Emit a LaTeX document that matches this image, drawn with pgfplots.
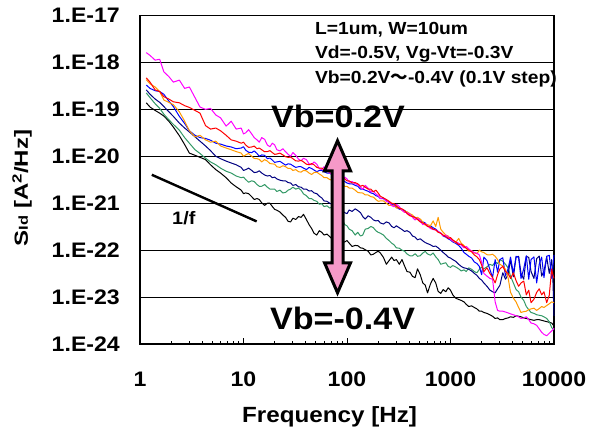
\documentclass[border=0pt]{standalone}
\usepackage{fontspec}
\setmainfont{Liberation Sans}[FakeStretch=1.1]
\newfontfamily\cjk{Noto Sans CJK JP}
\usepackage{pgfplots}
\usepackage{pgfplotstable}
\pgfplotsset{compat=1.18}
\definecolor{cmag}{RGB}{255,0,255}
\definecolor{cred}{RGB}{255,0,0}
\definecolor{corange}{RGB}{255,153,0}
\definecolor{cblue}{RGB}{0,0,255}
\definecolor{cnavy}{RGB}{0,0,128}
\definecolor{cgreen}{RGB}{51,153,102}
\definecolor{apink}{RGB}{245,153,200}
\pgfplotstableread{
f m r o b n g k
1.15 1.62e-18 4.7e-19 4.3e-19 3.3e-19 2.6e-19 2.24e-19 1.38e-19
1.25 1.41e-18 3.8e-19 3.5e-19 2.8e-19 2.1e-19 1.78e-19 1.12e-19
1.4 1.12e-18 2.6e-19 3.0e-19 2.5e-19 1.66e-19 1.32e-19 9.5e-20
1.55 1.17e-18 2.4e-19 2.4e-19 2.4e-19 1.41e-19 1.05e-19 8.3e-20
1.7 6.3e-19 1.86e-19 1.58e-19 2.1e-19 1.15e-19 7.9e-20 7.2e-20
1.9 5.0e-19 1.66e-19 1.41e-19 1.5e-19 8.9e-20 6.0e-20 5.6e-20
2.1 3.8e-19 1.45e-19 1.26e-19 1.15e-19 7.1e-20 4.8e-20 4.2e-20
2.4 4.2e-19 1.38e-19 8.9e-20 7.1e-20 5.1e-20 3.6e-20 2.75e-20
2.7 2.8e-19 1.2e-19 5.6e-20 5.0e-20 4.0e-20 2.5e-20 1.78e-20
3.0 3.0e-19 1.10e-19 3.5e-20 3.5e-20 3.3e-20 1.9e-20 1.17e-20
3.4 1.78e-19 9.5e-20 2.6e-20 2.8e-20 2.6e-20 1.38e-20 1.05e-20
3.8 1.12e-19 8.3e-20 2.8e-20 2.5e-20 2.1e-20 1.15e-20 9.5e-21
4.3 1.0e-19 4.5e-20 2.24e-20 2.4e-20 1.66e-20 9.1e-21 8.5e-21
4.8 1.05e-19 3.8e-20 2.0e-20 2.2e-20 1.32e-20 7.6e-21 6.6e-21
5.4 7.6e-20 4.0e-20 2.1e-20 1.9e-20 1.0e-20 6.6e-21 5.2e-21
6.0 6.6e-20 3.5e-20 1.66e-20 1.82e-20 8.9e-21 5.6e-21 4.4e-21
6.8 4.4e-20 2.8e-20 1.5e-20 1.66e-20 7.9e-21 4.8e-21 3.5e-21
7.6 5.6e-20 2.24e-20 1.38e-20 1.58e-20 7.2e-21 4.4e-21 2.7e-21
8.5 3.8e-20 2.1e-20 1.26e-20 1.45e-20 6.6e-21 3.8e-21 2.24e-21
9.5 4.0e-20 1.9e-20 1.17e-20 1.5e-20 5.8e-21 3.5e-21 1.9e-21
10 3.0e-20 2.0e-20 1.0e-20 1.6e-20 5.0e-21 3.6e-21 1.6e-21
10.5 3.16e-20 1.74e-20 1.07e-20 1.35e-20 5.2e-21 3.2e-21 1.66e-21
11.2 3.7e-20 1.55e-20 1.15e-20 1.22e-20 5.6e-21 2.8e-21 1.6e-21
12 3.0e-20 1.58e-20 1.0e-20 1.2e-20 5.0e-21 3.0e-21 1.38e-21
12.7 2.5e-20 1.65e-20 9.0e-21 1.3e-20 4.5e-21 2.9e-21 1.2e-21
13.5 2.24e-20 1.45e-20 8.9e-21 1.15e-20 4.6e-21 2.5e-21 1.26e-21
14.2 2.0e-20 1.5e-20 8.6e-21 1.0e-20 4.9e-21 2.3e-21 1.2e-21
15 2.5e-20 1.38e-20 7.6e-21 1.07e-20 4.4e-21 2.3e-21 1.02e-21
16 2.3e-20 1.25e-20 8.5e-21 1.05e-20 4.0e-21 2.5e-21 9.0e-22
17 1.74e-20 1.26e-20 7.9e-21 8.9e-21 3.8e-21 2.2e-21 1.0e-21
18 1.6e-20 1.32e-20 7.0e-21 9.2e-21 3.9e-21 2.0e-21 1.0e-21
19 1.9e-20 1.20e-20 6.9e-21 8.3e-21 3.5e-21 2.0e-21 8.5e-22
20 1.75e-20 1.1e-20 6.8e-21 7.4e-21 3.6e-21 2.0e-21 7.4e-22
21 1.38e-20 1.12e-20 6.0e-21 7.6e-21 3.3e-21 1.78e-21 7.1e-22
22.5 1.3e-20 1.17e-20 5.8e-21 7.8e-21 3.1e-21 1.9e-21 6.5e-22
24 1.45e-20 1.07e-20 6.3e-21 7.1e-21 3.0e-21 1.66e-21 5.6e-22
25.5 1.25e-20 9.8e-21 6.0e-21 6.5e-21 3.0e-21 1.7e-21 5.0e-22
27 1.10e-20 9.5e-21 5.5e-21 6.9e-21 2.75e-21 1.9e-21 4.1e-22
28.5 1.0e-20 9.6e-21 5.5e-21 6.8e-21 2.7e-21 2.0e-21 4.0e-22
30 1.20e-20 8.9e-21 5.0e-21 6.3e-21 2.4e-21 2.2e-21 4.8e-22
32 1.05e-20 8.0e-21 5.2e-21 5.8e-21 2.5e-21 2.0e-21 4.5e-22
34 8.7e-21 7.9e-21 4.7e-21 6.0e-21 2.24e-21 2.1e-21 5.2e-22
36 8.0e-21 8.2e-21 4.6e-21 6.0e-21 2.2e-21 1.9e-21 5.0e-22
38 9.1e-21 7.6e-21 5.0e-21 5.6e-21 2.0e-21 1.58e-21 5.8e-22
40.5 8.5e-21 6.8e-21 4.9e-21 5.2e-21 2.0e-21 1.45e-21 4.5e-22
43 6.9e-21 6.6e-21 4.4e-21 5.8e-21 1.82e-21 1.26e-21 3.5e-22
45.5 6.6e-21 7.0e-21 4.1e-21 5.5e-21 1.85e-21 1.25e-21 2.9e-22
48 7.6e-21 6.6e-21 4.5e-21 5.1e-21 1.66e-21 1.15e-21 2.3e-22
51 6.8e-21 5.8e-21 4.6e-21 4.7e-21 1.6e-21 1.1e-21 2.1e-22
54 5.5e-21 5.6e-21 4.2e-21 5.0e-21 1.41e-21 9.5e-22 2.6e-22
57 5.2e-21 5.6e-21 3.9e-21 5.0e-21 1.3e-21 9.8e-22 2.4e-22
60 6.0e-21 5.2e-21 3.5e-21 4.7e-21 1.12e-21 8.5e-22 2.1e-22
64 5.4e-21 4.8e-21 3.5e-21 4.4e-21 1.1e-21 8.8e-22 2.2e-22
68 4.4e-21 4.7e-21 3.2e-21 4.4e-21 1.0e-21 7.9e-22 1.95e-22
72 4.2e-21 4.6e-21 3.1e-21 4.0e-21 9.5e-22 8.3e-22 1.7e-22
76 4.8e-21 4.2e-21 2.8e-21 3.5e-21 8.3e-22 7.6e-22 1.78e-22
80 4.3e-21 3.9e-21 2.9e-21 3.5e-21 8.0e-22 6.8e-22 1.85e-22
85 3.5e-21 3.8e-21 2.6e-21 3.2e-21 7.2e-22 5.6e-22 1.66e-22
90 3.2e-21 3.6e-21 2.5e-21 3.1e-21 7.0e-22 4.6e-22 1.45e-22
95 3.6e-21 3.3e-21 2.3e-21 2.9e-21 6.3e-22 3.5e-22 1.5e-22
100 3.3e-21 3.0e-21 2.3e-21 2.7e-21 6.0e-22 3.3e-22 1.6e-22
105 2.8e-21 3.0e-21 2.1e-21 2.6e-21 7.2e-22 2.8e-22 1.41e-22
112 2.9e-21 2.7e-21 2.1e-21 2.6e-21 6.7e-22 2.6e-22 1.2e-22
120 2.6e-21 2.75e-21 1.9e-21 2.4e-21 7.6e-22 2.1e-22 1.26e-22
127 2.5e-21 2.6e-21 1.7e-21 2.3e-21 7.0e-22 2.4e-22 1.25e-22
135 2.2e-21 2.3e-21 1.66e-21 2.0e-21 6.3e-22 2.0e-22 1.12e-22
142 2.0e-21 2.4e-21 1.65e-21 2.0e-21 5.2e-22 2.1e-22 1.1e-22
150 2.4e-21 2.2e-21 1.5e-21 1.9e-21 4.6e-22 2.8e-22 1.02e-22
160 2.1e-21 2.0e-21 1.5e-21 1.8e-21 5.4e-22 2.9e-22 9.5e-23
170 1.74e-21 2.0e-21 1.38e-21 1.66e-21 5.0e-22 3.2e-22 7.9e-23
180 1.8e-21 1.75e-21 1.35e-21 1.6e-21 4.4e-22 3.0e-22 8.2e-23
190 1.58e-21 1.9e-21 1.2e-21 1.45e-21 4.2e-22 2.6e-22 8.9e-23
200 1.45e-21 1.65e-21 1.1e-21 1.4e-21 4.3e-22 2.4e-22 9.5e-23
210 1.26e-21 1.41e-21 1.12e-21 1.26e-21 3.8e-22 2.3e-22 8.7e-23
225 1.3e-21 1.3e-21 1.12e-21 1.25e-21 3.6e-22 2.1e-22 7.0e-23
240 1.10e-21 1.2e-21 1.0e-21 1.12e-21 4.0e-22 1.78e-22 5.0e-23
255 1.05e-21 1.1e-21 9.0e-22 1.05e-21 3.8e-22 1.6e-22 6.0e-23
270 8.9e-22 1.0e-21 9.1e-22 9.5e-22 3.2e-22 1.41e-22 7.1e-23
285 8.4e-22 9.8e-22 8.8e-22 9.2e-22 3.0e-22 1.3e-22 6.0e-23
300 9.5e-22 8.7e-22 7.9e-22 8.3e-22 3.3e-22 1.12e-22 6.3e-23
320 8.5e-22 7.8e-22 8.0e-22 7.5e-22 3.0e-22 1.1e-22 5.0e-23
340 7.1e-22 7.6e-22 7.1e-22 7.2e-22 2.75e-22 1.0e-22 6.3e-23
360 6.4e-22 7.0e-22 6.4e-22 7.0e-22 2.5e-22 9.5e-23 4.6e-23
380 6.3e-22 6.0e-22 6.6e-22 6.3e-22 2.6e-22 8.3e-23 3.5e-23
405 5.8e-22 5.4e-22 6.0e-22 5.6e-22 2.4e-22 7.6e-23 3.4e-23
430 5.0e-22 5.2e-22 5.6e-22 5.2e-22 2.0e-22 7.6e-23 2.75e-23
455 4.4e-22 5.0e-22 4.8e-22 5.0e-22 1.9e-22 8.4e-23 2.6e-23
480 4.8e-22 4.5e-22 5.0e-22 4.7e-22 1.66e-22 7.4e-23 4.0e-23
510 4.2e-22 4.0e-22 4.6e-22 4.2e-22 1.75e-22 7.6e-23 3.0e-23
540 3.5e-22 3.8e-22 4.0e-22 4.0e-22 1.58e-22 8.7e-23 2.0e-23
570 3.7e-22 3.6e-22 3.4e-22 3.8e-22 1.45e-22 9.4e-23 1.8e-23
600 3.3e-22 3.2e-22 3.5e-22 3.2e-22 1.38e-22 8.3e-23 1.23e-23
640 2.9e-22 3.1e-22 3.3e-22 3.3e-22 1.3e-22 7.8e-23 1.9e-23
680 2.75e-22 2.8e-22 4.2e-22 3.0e-22 1.2e-22 8.7e-23 2.5e-23
720 2.7e-22 2.7e-22 3.2e-22 2.8e-22 1.22e-22 7.2e-23 2.0e-23
760 2.5e-22 2.4e-22 5.0e-22 2.5e-22 1.12e-22 6.3e-23 1.32e-23
805 2.3e-22 2.3e-22 2.8e-22 2.3e-22 1.0e-22 5.0e-23 1.2e-23
850 2.0e-22 2.1e-22 2.4e-22 2.0e-22 8.9e-23 5.2e-23 1.45e-23
900 2.1e-22 1.95e-22 2.1e-22 1.9e-22 8.0e-23 5.4e-23 1.3e-23
950 1.9e-22 1.78e-22 2.0e-22 1.74e-22 7.1e-23 4.5e-23 1.58e-23
1000 1.7e-22 1.85e-22 1.75e-22 1.65e-22 6.8e-23 4.3e-23 1.4e-23
1050 1.58e-22 1.66e-22 1.58e-22 1.5e-22 6.3e-23 4.7e-23 1.12e-23
1120 1.5e-22 1.5e-22 1.45e-22 1.4e-22 5.8e-23 4.4e-23 9.5e-24
1200 1.41e-22 1.32e-22 1.78e-22 1.26e-22 5.0e-23 4.0e-23 8.9e-24
1270 1.28e-22 1.35e-22 1.4e-22 1.1e-22 4.5e-23 3.6e-23 8.5e-24
1350 1.12e-22 1.2e-22 1.26e-22 8.9e-23 4.2e-23 3.8e-23 7.9e-24
1420 1.2e-22 1.1e-22 1.1e-22 8.2e-23 4.1e-23 3.5e-23 7.0e-24
1500 1.07e-22 1.0e-22 9.5e-23 7.4e-23 3.9e-23 4.2e-23 6.3e-24
1600 9.5e-23 9.2e-23 9.8e-23 6.8e-23 3.6e-23 3.9e-23 6.5e-24
1700 8.9e-23 7.9e-23 8.7e-23 5.6e-23 3.2e-23 3.5e-23 6.0e-24
1800 8.6e-23 7.2e-23 8.4e-23 5.2e-23 2.9e-23 3.3e-23 5.6e-24
1900 7.9e-23 6.3e-23 1.0e-22 4.5e-23 2.5e-23 3.9e-23 5.0e-24
2000 5.5e-23 4.8e-23 9.2e-23 3.0e-23 2.3e-23 4.4e-23 5.0e-24
2100 3.2e-23 3.5e-23 8.9e-23 7.1e-23 2.0e-23 4.0e-23 4.7e-24
2250 2.8e-23 4.2e-23 8.0e-23 6.0e-23 1.7e-23 4.4e-23 4.5e-24
2400 2.5e-23 3.2e-23 7.9e-23 3.9e-23 1.41e-23 5.0e-23 4.2e-24
2550 2.4e-23 2.6e-23 8.2e-23 2.6e-23 1.3e-23 4.7e-23 3.9e-24
2700 7.9e-24 2.0e-23 7.4e-23 6.3e-23 1.23e-23 5.6e-23 3.5e-24
2850 5.2e-24 3.0e-23 6.3e-23 3.4e-23 1.5e-23 5.2e-23 3.6e-24
3000 5.0e-24 4.0e-23 5.0e-23 6.3e-23 1.78e-23 6.3e-23 3.3e-24
3200 5.0e-24 4.5e-23 4.6e-23 6.9e-23 3.3e-23 5.8e-23 3.3e-24
3400 4.8e-24 3.5e-23 3.9e-23 2.8e-23 2.4e-23 5.0e-23 3.5e-24
3600 4.6e-24 3.2e-23 2.6e-23 4.0e-23 3.0e-23 4.2e-23 3.6e-24
3800 4.4e-24 2.5e-23 1.26e-23 7.1e-23 6.3e-23 2.8e-23 3.8e-24
4050 4.2e-24 3.3e-23 9.5e-24 3.2e-23 2.7e-23 2.0e-23 3.7e-24
4300 4.0e-24 2.24e-23 7.9e-24 7.4e-23 7.1e-23 1.45e-23 4.0e-24
4550 3.8e-24 1.7e-23 6.0e-24 7.0e-23 7.4e-23 1.3e-23 3.9e-24
4800 3.5e-24 2.0e-23 4.7e-24 2.5e-23 3.2e-23 1.0e-23 3.8e-24
5100 3.6e-24 2.2e-23 4.9e-24 4.0e-23 2.4e-23 8.5e-24 3.6e-24
5400 3.8e-24 1.12e-23 5.0e-24 7.6e-23 7.4e-23 6.3e-24 3.5e-24
5700 3.3e-24 1.4e-23 5.4e-24 2.4e-23 7.0e-23 5.4e-24 3.4e-24
6000 2.8e-24 7.6e-24 5.6e-24 6.3e-23 3.5e-23 4.7e-24 3.3e-24
6400 2.7e-24 9.0e-24 5.8e-24 7.2e-23 2.5e-23 4.5e-24 3.2e-24
6800 2.5e-24 1.26e-23 5.2e-24 2.0e-23 6.6e-23 4.2e-24 3.3e-24
7200 2.1e-24 1.5e-23 5.7e-24 5.0e-23 7.5e-23 4.1e-24 3.3e-24
7600 1.78e-24 1.12e-23 6.3e-24 7.1e-23 2.8e-23 4.0e-24 3.2e-24
8000 1.6e-24 1.3e-23 6.0e-24 2.6e-23 3.6e-23 3.8e-24 3.1e-24
8500 1.5e-24 7.6e-24 6.6e-24 7.4e-23 7.1e-23 3.5e-24 3.0e-24
9000 1.7e-24 1.1e-23 7.2e-24 7.8e-23 3.2e-23 3.0e-24 2.9e-24
9500 1.9e-24 4.0e-23 7.9e-24 2.5e-23 6.3e-23 2.24e-24 2.8e-24
9750 2.0e-24 3.0e-23 7.8e-24 4.5e-23 2.5e-23 2.1e-24 2.6e-24
10000 2.2e-24 2.5e-23 7.6e-24 7.9e-23 4.0e-24 2.0e-24 2.4e-24
}\sid
\begin{document}
\begin{tikzpicture}
\useasboundingbox (-140pt,-90pt) rectangle (451pt,344pt);
\begin{axis}[
  at={(0,0)}, anchor=south west,
  scale only axis, width=414pt, height=328.5pt,
  xmode=log, ymode=log,
  xmin=1, xmax=10000, ymin=1e-24, ymax=1e-17,
  xtick={1,10,100,1000,10000},
  xticklabels={1,10,100,1000,10000},
  ytick={1e-24,1e-23,1e-22,1e-21,1e-20,1e-19,1e-18,1e-17},
  yticklabels={1.E-24,1.E-23,1.E-22,1.E-21,1.E-20,1.E-19,1.E-18,1.E-17},
  minor xtick={}, minor ytick={},
  ymajorgrids, major grid style={black, line width=0.8pt},
  axis line style={black, line width=1.1pt},
  tick align=inside, xtick pos=bottom, ytick pos=left,
  major tick length=6pt,
  xtick style={black, line width=0.8pt},
  ytick style={draw=none},
  tick label style={font=\fontsize{21}{24}\selectfont\bfseries, inner sep=0pt},
  yticklabel style={anchor=east, xshift=-20pt},
  xticklabel style={anchor=north, yshift=-28pt},
  xlabel={Frequency [Hz]},
  xlabel style={at={(axis description cs:0.458,0)}, anchor=north, yshift=-62pt, inner sep=0pt, font=\fontsize{22}{26}\selectfont\bfseries},
  ylabel={\scalebox{1.15}[1]{S{\fontsize{13}{15}\selectfont Id} [A\textsuperscript{2}/Hz]}},
  ylabel style={at={(axis description cs:-0.285,0.475)}, anchor=center, inner sep=0pt, font=\fontsize{19}{22}\selectfont\bfseries},
  clip=false,
  every axis plot/.append style={line width=1pt, line join=round, no markers},
]
\addplot[black] table[x=f, y=k] {\sid};
\addplot[cgreen] table[x=f, y=g] {\sid};
\addplot[cnavy] table[x=f, y=n] {\sid};
\addplot[cblue] table[x=f, y=b] {\sid};
\addplot[corange] table[x=f, y=o] {\sid};
\addplot[cmag] table[x=f, y=m] {\sid};
\addplot[cred] table[x=f, y=r] {\sid};
\addplot[black, line width=2.4pt] coordinates {(1.3,4.04e-21) (13.4,4.1e-22)};
\node[anchor=base west, inner sep=0pt, font=\fontsize{18}{20}\selectfont\bfseries] at (axis cs:2.04,3.49e-22) {1/f};
\node[anchor=base west, inner sep=0pt, font=\fontsize{17.5}{20}\selectfont\bfseries] at (axis cs:49,3.85e-18) {L=1um, W=10um};
\node[anchor=base west, inner sep=0pt, font=\fontsize{17.5}{20}\selectfont\bfseries] at (axis cs:49,1.19e-18) {Vd=-0.5V, Vg-Vt=-0.3V};
\node[anchor=base west, inner sep=0pt, font=\fontsize{17.5}{20}\selectfont\bfseries] at (axis cs:49,3.49e-19) {Vb=0.2V{\cjk ～}-0.4V (0.1V step)};
\node[anchor=base west, inner sep=0pt, font=\fontsize{31}{36}\selectfont\bfseries] at (axis cs:18.4,4.04e-20) {Vb=0.2V};
\node[anchor=base west, inner sep=0pt, font=\fontsize{31}{36}\selectfont\bfseries] at (axis cs:18.0,2.04e-24) {Vb=-0.4V};
\draw[line width=3pt, fill=apink, line join=miter] (axis cs:81,2.14e-20) -- ++(13pt,-30pt) -- ++(-7.5pt,0pt) -- ++(0pt,-92pt) -- ++(7.5pt,0pt) -- ++(-13pt,-30pt) -- ++(-13pt,30pt) -- ++(7.5pt,0pt) -- ++(0pt,92pt) -- ++(-7.5pt,0pt) -- cycle;
\end{axis}
\end{tikzpicture}
\end{document}
